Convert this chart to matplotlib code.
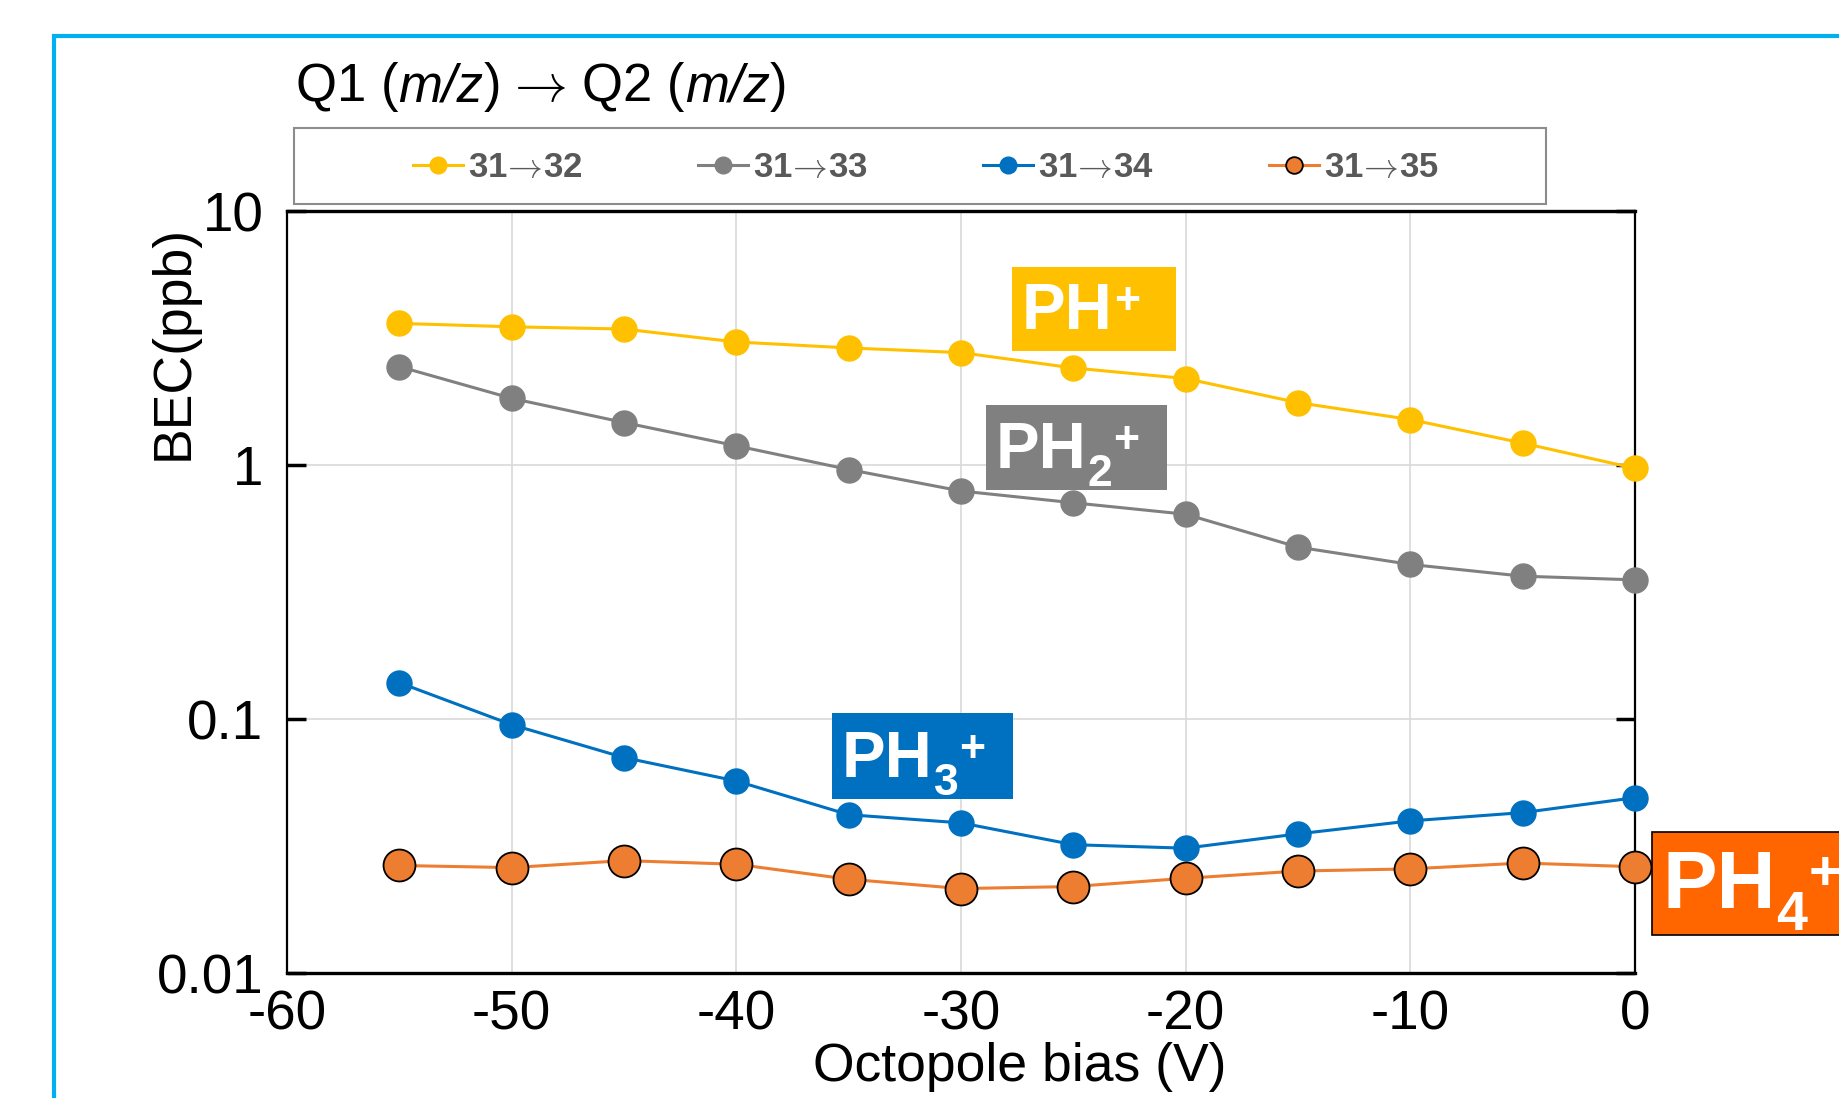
import numpy as np
import matplotlib
matplotlib.use("Agg")
import matplotlib.pyplot as plt
from matplotlib.patches import Rectangle

plt.rcParams['font.family'] = ['Liberation Sans', 'DejaVu Sans']

# octopole bias (V)
bias = [-55, -50, -45, -40, -35, -30, -25, -20, -15, -10, -5, 0]

# BEC (ppb) for each Q1 -> Q2 pair
bec_32 = [3.61, 3.50, 3.43, 3.05, 2.89, 2.77, 2.41, 2.19, 1.76, 1.51, 1.22, 0.97]
bec_33 = [2.44, 1.83, 1.47, 1.19, 0.96, 0.79, 0.71, 0.64, 0.475, 0.406, 0.365, 0.353]
bec_34 = [0.139, 0.095, 0.0705, 0.057, 0.042, 0.039, 0.032, 0.031, 0.0353, 0.0397, 0.0428, 0.049]
bec_35 = [0.0265, 0.026, 0.0277, 0.0268, 0.0234, 0.0215, 0.0219, 0.0236, 0.0252, 0.0257, 0.0271, 0.0262]

series_labels = ['31→32', '31→33', '31→34', '31→35']
colors = ['#FFC000', '#808080', '#0070C0', '#ED7D31']

xticks = [-60, -50, -40, -30, -20, -10, 0]
yticks = [0.01, 0.1, 1, 10]
ytick_labels = ['0.01', '0.1', '1', '10']

# ion labels: subscript digit ('' if none), box colour
ion_subs = ['', '2', '3', '4']
ion_colors = ['#FFC000', '#808080', '#0070C0', '#FF6600']

W, H = 1839, 1098
fig = plt.figure(figsize=(W / 100, H / 100), dpi=100)
ax = fig.add_axes([287 / W, 1 - 973 / H, 1348 / W, 762 / H])
renderer = fig.canvas.get_renderer()


def fx(px):
    return px / W


def fy(py):
    # pixel rows counted from the top
    return 1 - py / H


# cyan outer frame (runs off the image to the right and bottom)
frame = Rectangle((fx(54), -0.2), 2, 1.2 - 36 / H, transform=fig.transFigure,
                  fill=False, edgecolor='#00B0F0', lw=3, clip_on=False)
fig.patches.append(frame)

lines = []
for vals, lab, c in zip([bec_32, bec_33, bec_34], series_labels[:3], colors[:3]):
    ln, = ax.plot(bias, vals, color=c, lw=2.2, marker='o', ms=18,
                  markeredgecolor=c, label=lab, zorder=3, clip_on=False)
    lines.append(ln)
ln, = ax.plot(bias, bec_35, color=colors[3], lw=2.2, marker='o', ms=23,
              markeredgecolor='black', markeredgewidth=1.3, label=series_labels[3],
              zorder=3, clip_on=False)
lines.append(ln)

ax.set_yscale('log')
ax.set_xlim(-60, 0)
ax.set_ylim(0.01, 10)
ax.set_xticks(xticks)
ax.set_xticklabels([str(t) for t in xticks])
ax.set_yticks(yticks)
ax.set_yticklabels(ytick_labels)
ax.yaxis.set_minor_locator(matplotlib.ticker.NullLocator())
ax.grid(True, color='#D9D9D9', lw=1.2)
ax.set_axisbelow(True)
ax.tick_params(axis='x', length=0, pad=12, labelsize=39.5)
ax.tick_params(axis='y', which='major', direction='in', length=14, width=2.5,
               right=True, pad=17, labelsize=39.5)
for s in ax.spines.values():
    s.set_linewidth(1.6)
    s.set_color('black')
ax.spines['top'].set_linewidth(2.4)
ax.spines['bottom'].set_linewidth(2.4)

# axis labels
fig.text(fx(174), fy(342), 'BEC(ppb)', rotation=90, ha='center', va='center',
         fontsize=38.5)
fig.text(fx(1020), fy(1067), 'Octopole bias (V)', ha='center', va='center',
         fontsize=38.5)


def text_run(x, y, pieces):
    # draw pieces left to right on one baseline, x/y in pixels from top-left
    for s, dx, kw in pieces:
        t = fig.text(fx(x + dx), fy(y), s, ha='left', va='baseline', **kw)
        x = t.get_window_extent(renderer).x1
    return x


# legend title
arrow = r'$\!\rightarrow\!$'
text_run(296, 101, [('Q1 (', 0, dict(fontsize=38)),
                    ('m/z', 0, dict(fontsize=38, style='italic')),
                    (')', 0, dict(fontsize=38)),
                    (arrow, 12, dict(fontsize=38, math_fontfamily='cm')),
                    ('Q2 (', 16, dict(fontsize=38)),
                    ('m/z', 0, dict(fontsize=38, style='italic')),
                    (')', 0, dict(fontsize=38))])

legbox = Rectangle((fx(294), fy(204)), (1546 - 294) / W, (204 - 128) / H,
                   transform=fig.transFigure, fill=False, edgecolor='#8C8C8C', lw=1.5)
fig.patches.append(legbox)
leg_text = [s.replace('→', arrow) for s in series_labels]
leg = fig.legend(handles=lines, labels=leg_text, ncol=4, loc='center',
                 bbox_to_anchor=(fx(926), fy(168)), frameon=False,
                 handlelength=1.45, handletextpad=0.15, columnspacing=3.3,
                 prop={'weight': 'bold', 'size': 25, 'math_fontfamily': 'cm'})
for t in leg.get_texts():
    t.set_color('#595959')
for lh in leg.get_lines():
    lh.set_markersize(12)

# ion label boxes (pixels: left, right, top, bottom)
ion_boxes = [(1012, 1176, 267, 351), (986, 1167, 405, 490),
             (832, 1013, 713, 799), (1652, 1900, 832, 935)]
for (x0, x1, y0, y1), sub, c in zip(ion_boxes, ion_subs, ion_colors):
    big = sub == '4'
    k = 1.25 if big else 1.0
    rect = Rectangle((fx(x0), fy(y1)), (x1 - x0) / W, (y1 - y0) / H,
                     transform=fig.transFigure, facecolor=c,
                     edgecolor='black' if big else 'none', lw=1.2, clip_on=False)
    fig.patches.append(rect)
    base = y1 - 22 * k
    t = fig.text(fx(x0 + 10), fy(base), 'PH', color='white', fontweight='bold',
                 fontsize=47 * k, ha='left', va='baseline')
    xe = t.get_window_extent(renderer).x1
    if sub:
        ts = fig.text(fx(xe + 1), fy(base + 18 * k), sub, color='white',
                      fontweight='bold', fontsize=32 * k, ha='left', va='baseline')
        xe = ts.get_window_extent(renderer).x1
    fig.text(fx(xe + 1), fy(base - 15 * k), '+', color='white', fontweight='bold',
             fontsize=32 * k, ha='left', va='baseline')

fig.savefig('out.png', dpi=100)
